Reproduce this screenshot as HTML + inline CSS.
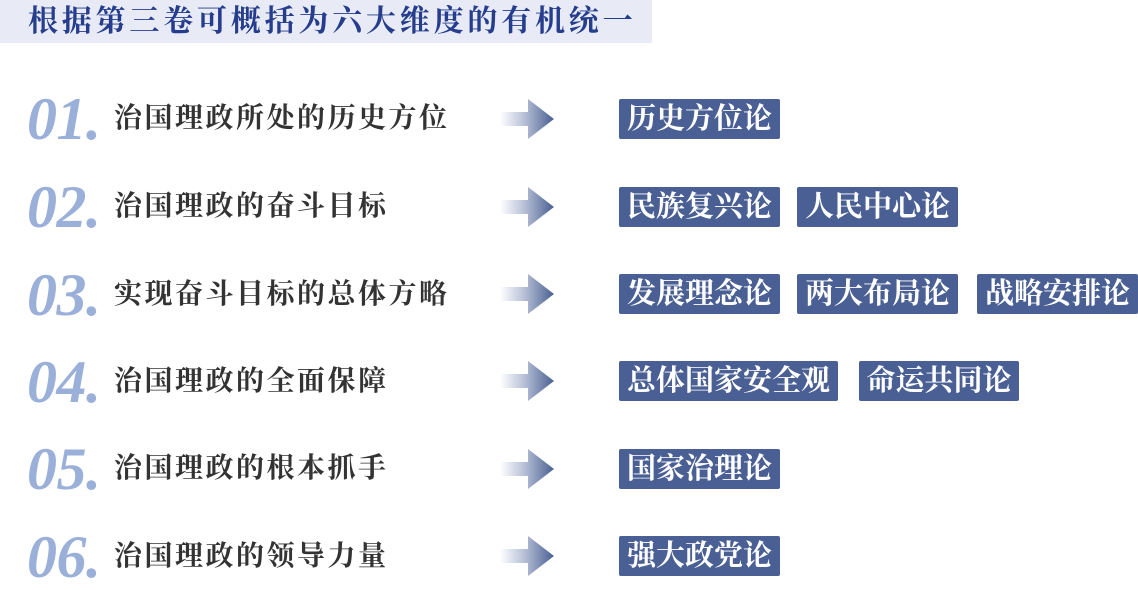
<!DOCTYPE html>
<html><head><meta charset="utf-8"><style>
body{margin:0;width:1138px;height:577px;background:#fff;position:relative;overflow:hidden;font-family:"Liberation Serif","Noto Serif CJK SC",serif;}
.title{position:absolute;left:0;top:0;width:652px;height:43px;background:#e8ebf5;color:#253d8c;font-size:30px;font-weight:bold;line-height:43px;padding-left:28px;box-sizing:border-box;letter-spacing:3.8px;white-space:nowrap}
.num{position:absolute;left:27px;font-family:"Liberation Serif",serif;font-style:italic;font-weight:bold;font-size:60px;color:#9bb0d9;line-height:1;letter-spacing:-0.5px}
.lab{position:absolute;left:114px;font-size:28px;color:#333;font-weight:bold;line-height:1;white-space:nowrap;letter-spacing:2.5px}
.arr{position:absolute;left:500px;width:54px;height:40px}
.tag{position:absolute;height:40px;background:#4a6094;color:#fff;font-size:29px;font-weight:bold;line-height:40px;text-align:center;border-radius:2px;white-space:nowrap}
</style></head><body>
<div class="title">根据第三卷可概括为六大维度的有机统一</div>
<svg width="0" height="0" style="position:absolute"><defs><linearGradient id="g" x1="0" x2="1"><stop offset="0" stop-color="#fff"/><stop offset="0.45" stop-color="#b7c0d6"/><stop offset="1" stop-color="#4a5f92"/></linearGradient></defs></svg>

<div class="num" style="top:89px">01.</div><div class="lab" style="top:105px">治国理政所处的历史方位</div>
<svg class="arr" style="top:99px"><polygon points="0,13 28,13 28,0 54,20 28,40 28,27 0,27" fill="url(#g)"/></svg>
<div class="tag" style="left:619px;top:99px;width:161px">历史方位论</div>

<div class="num" style="top:177px">02.</div><div class="lab" style="top:193px">治国理政的奋斗目标</div>
<svg class="arr" style="top:187px"><polygon points="0,13 28,13 28,0 54,20 28,40 28,27 0,27" fill="url(#g)"/></svg>
<div class="tag" style="left:619px;top:187px;width:161px">民族复兴论</div>
<div class="tag" style="left:797px;top:187px;width:161px">人民中心论</div>

<div class="num" style="top:265px">03.</div><div class="lab" style="top:281px">实现奋斗目标的总体方略</div>
<svg class="arr" style="top:274px"><polygon points="0,13 28,13 28,0 54,20 28,40 28,27 0,27" fill="url(#g)"/></svg>
<div class="tag" style="left:619px;top:274px;width:161px">发展理念论</div>
<div class="tag" style="left:797px;top:274px;width:161px">两大布局论</div>
<div class="tag" style="left:977px;top:274px;width:161px">战略安排论</div>

<div class="num" style="top:352px">04.</div><div class="lab" style="top:368px">治国理政的全面保障</div>
<svg class="arr" style="top:361px"><polygon points="0,13 28,13 28,0 54,20 28,40 28,27 0,27" fill="url(#g)"/></svg>
<div class="tag" style="left:619px;top:361px;width:219px">总体国家安全观</div>
<div class="tag" style="left:859px;top:361px;width:160px">命运共同论</div>

<div class="num" style="top:439px">05.</div><div class="lab" style="top:455px">治国理政的根本抓手</div>
<svg class="arr" style="top:449px"><polygon points="0,13 28,13 28,0 54,20 28,40 28,27 0,27" fill="url(#g)"/></svg>
<div class="tag" style="left:619px;top:449px;width:161px">国家治理论</div>

<div class="num" style="top:527px">06.</div><div class="lab" style="top:543px">治国理政的领导力量</div>
<svg class="arr" style="top:536px"><polygon points="0,13 28,13 28,0 54,20 28,40 28,27 0,27" fill="url(#g)"/></svg>
<div class="tag" style="left:619px;top:536px;width:161px">强大政党论</div>
</body></html>
